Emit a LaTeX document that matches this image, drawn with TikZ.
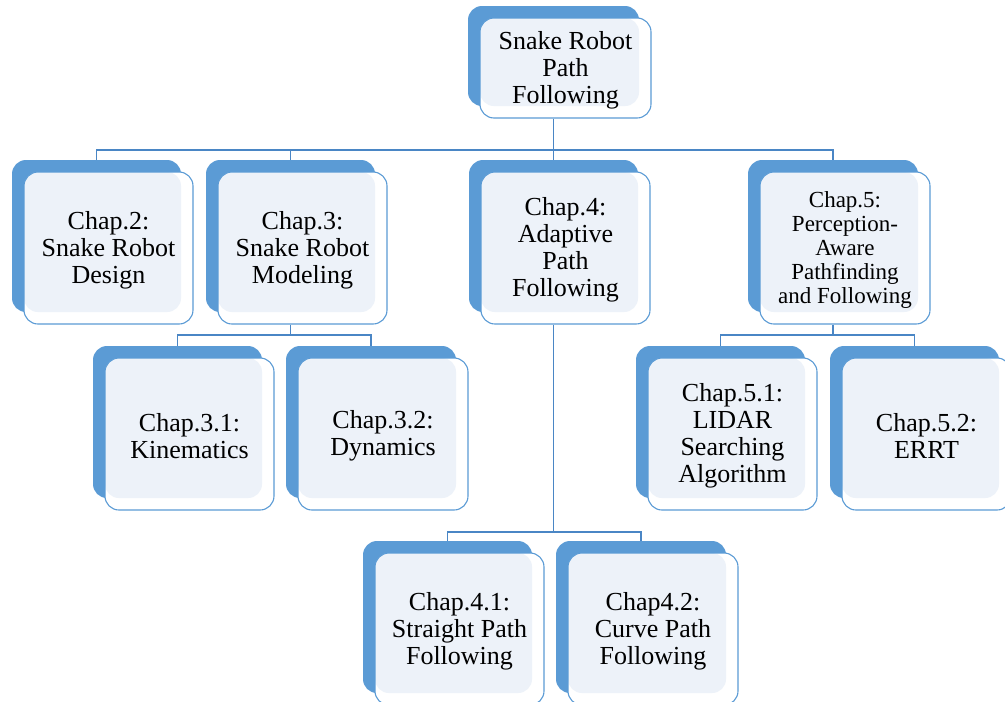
\documentclass[tikz,border=0pt]{standalone}
\usepackage{fontspec}
\setmainfont{Liberation Serif}
\definecolor{backblue}{HTML}{5B9BD5}
\definecolor{edgeblue}{HTML}{5B9BD5}
\definecolor{lineblue}{HTML}{4A86C5}
\definecolor{lightfill}{HTML}{EDF2F9}
\tikzset{
  backbox/.style={fill=backblue, draw=none, rounded corners=14pt, inner sep=0pt},
  frontbox/.style={fill=white, draw=edgeblue, line width=1.1pt, rounded corners=14pt, inner sep=0pt, align=center,
    font=\fontsize{26}{27}\selectfont,
    path picture={\fill[lightfill, rounded corners=14pt] (path picture bounding box.north west) rectangle ([xshift=-12pt,yshift=12pt]path picture bounding box.south east);}},
  small/.style={font=\fontsize{23}{24}\selectfont},
  conn/.style={draw=lineblue, line width=1.2pt}
}
% #1 name, #2 x1, #3 y1, #4 x2, #5 y2 (front box, image coords), #6 options, #7 text
\newcommand\chbox[7]{%
  \node[backbox, minimum width={(#4-#2)*1pt}, minimum height={(#5-#3)*1pt}] (#1b) at ({(#2+#4)/2-12},{(#3+#5)/2-12}) {};
  \node[frontbox, minimum width={(#4-#2)*1pt}, minimum height={(#5-#3)*1pt}, #6] (#1) at ({(#2+#4)/2},{(#3+#5)/2}) {};
  \node[align=center, inner sep=0pt, font=\fontsize{26}{27}\selectfont, #6] (#1t) at ([yshift=-2pt]#1.center) {#7};
}
\begin{document}
\begin{tikzpicture}[x=1pt,y=-1pt]
\useasboundingbox (0,0) rectangle (1005,702);
\clip (0,0) rectangle (1005,702);
\coordinate (bus0) at (0,150);
\coordinate (bus3) at (0,335);
\coordinate (bus4) at (0,532);
% boxes
\chbox{top}{480}{18}{651}{118}{}{Snake Robot\\Path\\Following}
\chbox{c2}{24}{172}{193}{324}{}{Chap.2:\\Snake Robot\\Design}
\chbox{c3}{218}{172}{387}{324}{}{Chap.3:\\Snake Robot\\Modeling}
\chbox{c4}{481}{172}{650}{324}{}{Chap.4:\\Adaptive\\Path\\Following}
\chbox{c5}{760}{172}{930}{324}{small}{Chap.5:\\Perception-\\Aware\\Pathfinding\\and Following}
\chbox{c31}{105}{358}{274}{510}{}{Chap.3.1:\\Kinematics}
\chbox{c32}{298}{358}{468}{510}{}{Chap.3.2:\\Dynamics}
\chbox{c51}{648}{358}{817}{510}{}{Chap.5.1:\\LIDAR\\Searching\\Algorithm}
\chbox{c52}{842}{358}{1011}{510}{}{Chap.5.2:\\ERRT}
\chbox{c41}{375}{553}{544}{705}{}{Chap.4.1:\\Straight Path\\Following}
\chbox{c42}{568}{553}{738}{705}{}{Chap4.2:\\Curve Path\\Following}
% connectors
\draw[conn] (topb.south |- top.south) -- (topb.south |- bus0);
\draw[conn] (c2b.north) |- (c5b.north |- bus0) -- (c5b.north);
\draw[conn] (c3b.north) -- (c3b.north |- bus0);
\draw[conn] (c4b.north) -- (c4b.north |- bus0);
\draw[conn] (c3b.south |- c3.south) -- (c3b.south |- bus3);
\draw[conn] (c31b.north) |- (c32b.north |- bus3) -- (c32b.north);
\draw[conn] (c5b.south |- c5.south) -- (c5b.south |- bus3);
\draw[conn] (c51b.north) |- (c52b.north |- bus3) -- (c52b.north);
\draw[conn] (c4b.south |- c4.south) -- (c4b.south |- bus4);
\draw[conn] (c41b.north) |- (c42b.north |- bus4) -- (c42b.north);
\end{tikzpicture}
\end{document}
